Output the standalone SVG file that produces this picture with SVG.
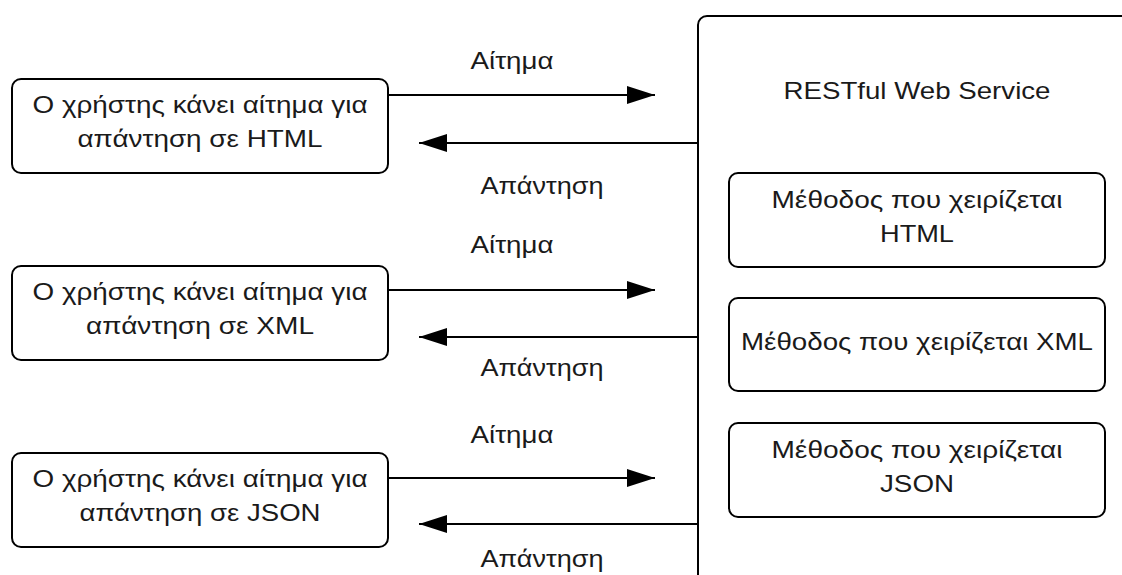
<svg xmlns="http://www.w3.org/2000/svg" width="1122" height="575" viewBox="0 0 1122 575">
  <style>
    .box { fill: #ffffff; stroke: #000000; stroke-width: 2; }
    .t { font-family: "Liberation Sans", Arial, sans-serif; font-size: 24px; fill: #1a1a1a; text-anchor: middle; }
    .conn { stroke: #000000; stroke-width: 2; fill: none; marker-end: url(#arrow); }
  </style>
  <defs>
    <marker id="arrow" viewBox="0 0 28 18" refX="28" refY="9" markerWidth="28" markerHeight="18" markerUnits="userSpaceOnUse" orient="auto">
      <path d="M0,0 L28,9 L0,18 Z" fill="#000000"/>
    </marker>
  </defs>

  <!-- service container -->
  <g id="service">
    <rect class="box" x="698" y="16" width="440" height="580" rx="9"/>
    <text class="t" x="917" y="99" textLength="267" lengthAdjust="spacingAndGlyphs">RESTful Web Service</text>
  </g>

  <g id="method-html">
    <rect class="box" x="729" y="173" width="376" height="94" rx="9"/>
    <text class="t" x="917" y="208" textLength="291" lengthAdjust="spacingAndGlyphs">Μέθοδος που χειρίζεται</text>
    <text class="t" x="917" y="242" textLength="74" lengthAdjust="spacingAndGlyphs">HTML</text>
  </g>
  <g id="method-xml">
    <rect class="box" x="729" y="298" width="376" height="93" rx="9"/>
    <text class="t" x="917" y="350" textLength="352" lengthAdjust="spacingAndGlyphs">Μέθοδος που χειρίζεται XML</text>
  </g>
  <g id="method-json">
    <rect class="box" x="729" y="423" width="376" height="94" rx="9"/>
    <text class="t" x="917" y="458" textLength="291" lengthAdjust="spacingAndGlyphs">Μέθοδος που χειρίζεται</text>
    <text class="t" x="917" y="492" textLength="74" lengthAdjust="spacingAndGlyphs">JSON</text>
  </g>

  <!-- clients -->
  <g id="client-html">
    <rect class="box" x="12" y="79" width="376" height="94" rx="9"/>
    <text class="t" x="200" y="113" textLength="335" lengthAdjust="spacingAndGlyphs">Ο χρήστης κάνει αίτημα για</text>
    <text class="t" x="200" y="147" textLength="245" lengthAdjust="spacingAndGlyphs">απάντηση σε HTML</text>
  </g>
  <g id="client-xml">
    <rect class="box" x="12" y="266" width="376" height="94" rx="9"/>
    <text class="t" x="200" y="300" textLength="335" lengthAdjust="spacingAndGlyphs">Ο χρήστης κάνει αίτημα για</text>
    <text class="t" x="200" y="334" textLength="228" lengthAdjust="spacingAndGlyphs">απάντηση σε XML</text>
  </g>
  <g id="client-json">
    <rect class="box" x="12" y="453" width="376" height="94" rx="9"/>
    <text class="t" x="200" y="487" textLength="335" lengthAdjust="spacingAndGlyphs">Ο χρήστης κάνει αίτημα για</text>
    <text class="t" x="200" y="521" textLength="241" lengthAdjust="spacingAndGlyphs">απάντηση σε JSON</text>
  </g>

  <!-- request / response connectors -->
  <g id="connectors">
    <line class="conn" x1="388" y1="95" x2="655" y2="95"/>
    <line class="conn" x1="697" y1="143" x2="419" y2="143"/>
    <line class="conn" x1="388" y1="290" x2="655" y2="290"/>
    <line class="conn" x1="697" y1="337" x2="419" y2="337"/>
    <line class="conn" x1="388" y1="478" x2="655" y2="478"/>
    <line class="conn" x1="697" y1="524" x2="419" y2="524"/>
    <text class="t" x="512" y="69" textLength="83" lengthAdjust="spacingAndGlyphs">Αίτημα</text>
    <text class="t" x="542" y="194" textLength="123" lengthAdjust="spacingAndGlyphs">Απάντηση</text>
    <text class="t" x="512" y="253" textLength="83" lengthAdjust="spacingAndGlyphs">Αίτημα</text>
    <text class="t" x="542" y="376" textLength="123" lengthAdjust="spacingAndGlyphs">Απάντηση</text>
    <text class="t" x="512" y="443" textLength="83" lengthAdjust="spacingAndGlyphs">Αίτημα</text>
    <text class="t" x="542" y="567" textLength="123" lengthAdjust="spacingAndGlyphs">Απάντηση</text>
  </g>
</svg>
